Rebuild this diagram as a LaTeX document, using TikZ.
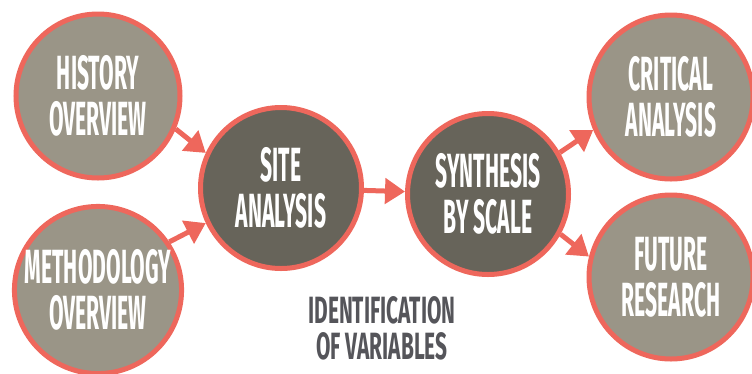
\documentclass[tikz,border=0pt]{standalone}
\usepackage{fontspec}
\setmainfont[FakeStretch=0.44]{Fira Sans}
\newfontfamily\labelfont[FakeStretch=0.55]{Fira Sans}
\usetikzlibrary{arrows.meta}
\definecolor{salmon}{HTML}{EE675C}
\definecolor{stone}{HTML}{9A9587}
\definecolor{slate}{HTML}{67645A}
\definecolor{inkgray}{HTML}{55555A}
\begin{document}
\begin{tikzpicture}[x=1pt, y=1pt,
    bubble/.style={circle, draw=salmon, line width=5pt, fill=stone, text=white, minimum size=164pt,
        inner sep=0pt, align=center, font=\fontsize{48}{46}\selectfont\bfseries},
    core/.style={bubble, fill=slate, minimum size=161pt},
    flow/.style={draw=salmon, line width=5pt, -{Triangle[length=20pt, width=25pt]}}]
    \useasboundingbox (0,0) rectangle (752,-373);
    \node[bubble] (history) at (98,-96) {HISTORY\\OVERVIEW};
    \node[bubble] (method) at (98,-290) {METHODOLOGY\\OVERVIEW};
    \node[core] (site) at (281,-188) {SITE\\ANALYSIS};
    \node[core] (synth) at (488,-194) {SYNTHESIS\\BY SCALE};
    \node[bubble] (critical) at (671,-97) {CRITICAL\\ANALYSIS};
    \node[bubble] (future) at (671,-277) {FUTURE\\RESEARCH};
    \node[text=inkgray, align=center, font=\labelfont\fontsize{38}{36}\selectfont\bfseries] (variables) at (382,-328) {IDENTIFICATION\\OF VARIABLES};
    \draw[flow] (history.-23) -- (site.155);
    \draw[flow] (method.34) -- (site.205);
    \draw[flow] (site) -- (synth);
    \draw[flow] (synth.30) -- (critical.203);
    \draw[flow] (synth.-29) -- (future.166);
\end{tikzpicture}
\end{document}
